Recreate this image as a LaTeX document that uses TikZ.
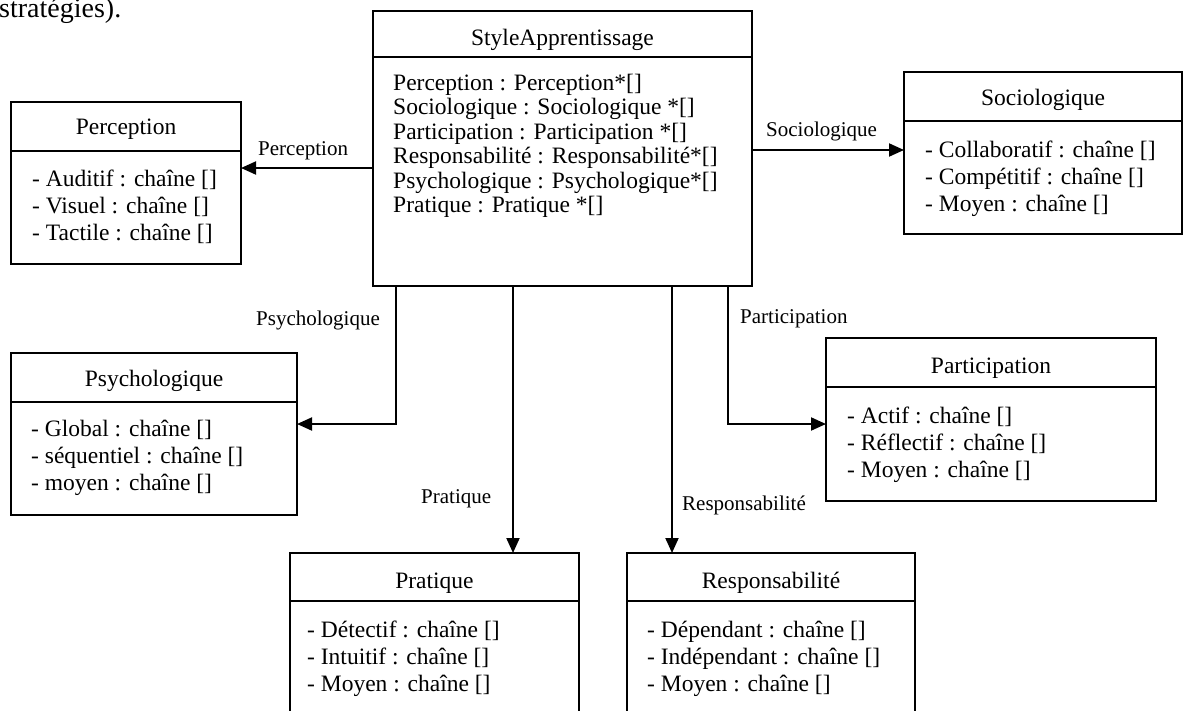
\documentclass[tikz,border=0pt]{standalone}
\usepackage{fontspec}
\setmainfont{Liberation Serif}
\usetikzlibrary{arrows.meta}

\begin{document}
\begin{tikzpicture}[x=1pt,y=-1pt,
  classbox/.style={draw, line width=2pt, inner sep=0pt, outer sep=0pt, anchor=north west},
  divider/.style={line width=2pt},
  classname/.style={anchor=base, inner sep=0pt, font=\fontsize{23.5}{27}\selectfont},
  % attribute lists are placed by the baseline of their last line
  attrs/.style={anchor=base west, inner sep=0pt, align=left, font=\fontsize{23.5}{27}\selectfont},
  conn/.style={line width=2pt, -{Triangle[length=15pt,width=13pt]}},
  rolename/.style={anchor=base west, inner sep=0pt, font=\fontsize{21}{24}\selectfont},
]
\useasboundingbox (0,0) rectangle (1185,710);

% running text above the diagram
\node[anchor=base west, inner sep=0pt, font=\fontsize{28}{32}\selectfont] (txt) at (-1,17) {stratégies).};

% central class
\node[classbox, minimum width=379pt, minimum height=275pt] (style) at (373,11) {};
\draw[divider] ([yshift=-46pt]style.north west) -- ([yshift=-46pt]style.north east);
\node[classname] (styleN) at ([yshift=-34pt]style.north) {StyleApprentissage};
\node[attrs, font=\fontsize{23.5}{24.5}\selectfont] (styleA) at (393,212.5)
  {Perception : Perception*[]\\
   Sociologique : Sociologique *[]\\
   Participation : Participation *[]\\
   Responsabilité : Responsabilité*[]\\
   Psychologique : Psychologique*[]\\
   Pratique : Pratique *[]};

% Perception
\node[classbox, minimum width=230pt, minimum height=162pt] (perc) at (11,102) {};
\draw[divider] ([yshift=-49pt]perc.north west) -- ([yshift=-49pt]perc.north east);
\node[classname] (percN) at ([yshift=-32pt]perc.north) {Perception};
\node[attrs] (percA) at (32,240)
  {- Auditif : chaîne []\\- Visuel : chaîne []\\- Tactile : chaîne []};

% Sociologique
\node[classbox, minimum width=278pt, minimum height=162pt] (soc) at (904,72) {};
\draw[divider] ([yshift=-49pt]soc.north west) -- ([yshift=-49pt]soc.north east);
\node[classname] (socN) at ([yshift=-33pt]soc.north) {Sociologique};
\node[attrs] (socA) at (925,211)
  {- Collaboratif : chaîne []\\- Compétitif : chaîne []\\- Moyen : chaîne []};

% Psychologique
\node[classbox, minimum width=286pt, minimum height=162pt] (psy) at (11,353) {};
\draw[divider] ([yshift=-49pt]psy.north west) -- ([yshift=-49pt]psy.north east);
\node[classname] (psyN) at ([yshift=-33pt]psy.north) {Psychologique};
\node[attrs] (psyA) at (31,490)
  {- Global : chaîne []\\- séquentiel : chaîne []\\- moyen : chaîne []};

% Participation
\node[classbox, minimum width=330pt, minimum height=163pt] (par) at (826,338) {};
\draw[divider] ([yshift=-49pt]par.north west) -- ([yshift=-49pt]par.north east);
\node[classname] (parN) at ([yshift=-35pt]par.north) {Participation};
\node[attrs] (parA) at (847,477)
  {- Actif : chaîne []\\- Réflectif : chaîne []\\- Moyen : chaîne []};

% Pratique
\node[classbox, minimum width=289pt, minimum height=162pt] (pra) at (290,553) {};
\draw[divider] ([yshift=-48pt]pra.north west) -- ([yshift=-48pt]pra.north east);
\node[classname] (praN) at ([yshift=-35pt]pra.north) {Pratique};
\node[attrs] (praA) at (307,691)
  {- Détectif : chaîne []\\- Intuitif : chaîne []\\- Moyen : chaîne []};

% Responsabilité
\node[classbox, minimum width=288pt, minimum height=162pt] (res) at (627,553) {};
\draw[divider] ([yshift=-48pt]res.north west) -- ([yshift=-48pt]res.north east);
\node[classname] (resN) at ([yshift=-35pt]res.north) {Responsabilité};
\node[attrs] (resA) at (647,691)
  {- Dépendant : chaîne []\\- Indépendant : chaîne []\\- Moyen : chaîne []};

% associations
\coordinate (yPerc) at (0,168);
\coordinate (ySoc)  at (0,150);
\coordinate (kPsy)  at (396,424);
\coordinate (kPar)  at (728,424);
\coordinate (xPra)  at (513,0);
\coordinate (xRes)  at (672,0);

\draw[conn] (style.west |- yPerc) -- (perc.east |- yPerc);
\draw[conn] (style.east |- ySoc) -- (soc.west |- ySoc);
\draw[conn] (style.south -| kPsy) -- (kPsy) -- (psy.east |- kPsy);
\draw[conn] (style.south -| kPar) -- (kPar) -- (par.west |- kPar);
\draw[conn] (style.south -| xPra) -- (pra.north -| xPra);
\draw[conn] (style.south -| xRes) -- (res.north -| xRes);

% role names
\node[rolename] (lPerc) at (258,155) {Perception};
\node[rolename] (lSoc)  at (766,136) {Sociologique};
\node[rolename] (lPsy)  at (256,325) {Psychologique};
\node[rolename] (lPar)  at (740,323) {Participation};
\node[rolename] (lPra)  at (421,503) {Pratique};
\node[rolename] (lRes)  at (682,510) {Responsabilité};
\end{tikzpicture}
\end{document}
